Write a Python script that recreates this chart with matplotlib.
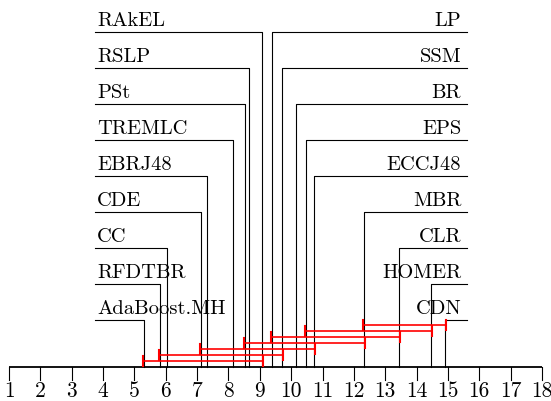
import matplotlib
matplotlib.use("Agg")
import matplotlib.pyplot as plt

plt.rcParams['font.family'] = 'cmr10'
plt.rcParams['mathtext.fontset'] = 'cm'
plt.rcParams['axes.formatter.use_mathtext'] = True

# average ranks
left_names = ['RAkEL', 'RSLP', 'PSt', 'TREMLC', 'EBRJ48', 'CDE', 'CC', 'RFDTBR', 'AdaBoost.MH']
left_ranks = [9.06, 8.67, 8.53, 8.15, 7.33, 7.11, 6.05, 5.82, 5.31]
right_names = ['LP', 'SSM', 'BR', 'EPS', 'ECCJ48', 'MBR', 'CLR', 'HOMER', 'CDN']
right_ranks = [9.38, 9.70, 10.15, 10.47, 10.73, 12.32, 13.44, 14.45, 14.91]

# cliques of non-significantly different methods (low rank, high rank)
clique_lo = [5.31, 5.82, 7.11, 8.53, 9.38, 10.47, 12.32]
clique_hi = [9.06, 9.70, 10.73, 12.32, 13.44, 14.45, 14.91]

rank_ticks = list(range(1, 19))

# layout in pixel units on the y axis
px_per_rank = (542 - 9) / 17
axis_y = 367.7
row0_y = 32.7
row_gap = 36.0
left_edge = 1 + (95 - 9) / px_per_rank
right_edge = 1 + (467 - 9) / px_per_rank

fig = plt.figure(figsize=(5.51, 4.02), dpi=100)
ax = fig.add_axes([0, 0, 1, 1])
ax.set_xlim(1 - 9 / px_per_rank, 18 + 9 / px_per_rank)
ax.set_ylim(402, 0)
ax.axis('off')

# main axis
ax.plot([1, 18], [axis_y, axis_y], color='black', lw=1.3, solid_capstyle='butt')
for t in rank_ticks:
    ax.plot([t, t], [axis_y, axis_y + 13], color='black', lw=0.8)
    ax.text(t, 397.3, str(t), ha='center', va='baseline', fontsize=15.5)

# method labels with connecting lines
for i, (name, r) in enumerate(zip(left_names, left_ranks)):
    y = row0_y + i * row_gap
    ax.plot([left_edge, r, r], [y, y, axis_y], color='black', lw=0.8)
    ax.text(left_edge + 0.06, y - 6.6, name, ha='left', va='baseline', fontsize=14.8)

for i, (name, r) in enumerate(zip(right_names, right_ranks)):
    y = row0_y + i * row_gap
    ax.plot([right_edge, r, r], [y, y, axis_y], color='black', lw=0.8)
    ax.text(right_edge - 0.18, y - 6.6, name, ha='right', va='baseline', fontsize=14.8)

# critical difference bars
bar_y0 = 361.7
bar_gap = 5.9
for i, (lo, hi) in enumerate(zip(clique_lo, clique_hi)):
    y = bar_y0 - i * bar_gap
    ax.plot([lo - 0.03, hi + 0.03], [y, y], color='red', lw=1.2)
    ax.plot([lo - 0.03, lo - 0.03], [y - 5, y + 5], color='red', lw=1.5)
    ax.plot([hi + 0.03, hi + 0.03], [y - 5, y + 5], color='red', lw=1.5)

fig.savefig('out.png', dpi=100)
